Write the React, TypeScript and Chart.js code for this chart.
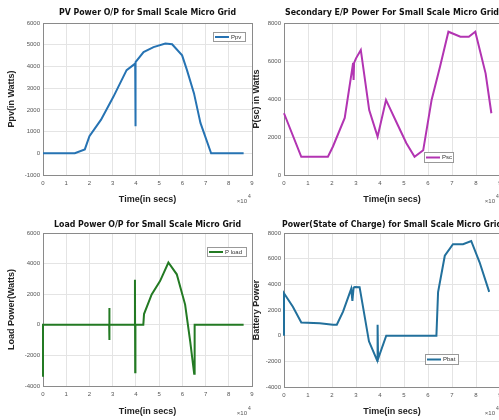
import React, { useEffect, useRef } from "react";
import { Chart, registerables } from "chart.js";

Chart.register(...registerables);

// ---------- data (time in units of 10^4 s) ----------
const xTickValues = [0, 1, 2, 3, 4, 5, 6, 7, 8, 9];

const pvTime = [0, 1.37, 1.8, 2.0, 2.5, 3.03, 3.6, 3.97, 3.98, 3.99, 4.33, 4.76, 5.27, 5.56, 5.99, 6.2, 6.5, 6.78, 7.24, 8.64];
const pvPower = [0, 0, 180, 790, 1550, 2600, 3830, 4130, 1250, 4200, 4660, 4890, 5050, 5020, 4510, 3830, 2770, 1400, 0, 0];
const pvYTicks = [-1000, 0, 1000, 2000, 3000, 4000, 5000, 6000];

const secTime = [0, 0.72, 1.83, 2.04, 2.53, 2.88, 2.9, 2.92, 3.0, 3.2, 3.55, 3.9, 4.25, 4.74, 5.1, 5.44, 5.8, 6.15, 6.5, 6.85, 7.35, 7.7, 7.97, 8.4, 8.64];
const secPower = [3250, 960, 960, 1500, 3000, 5900, 5000, 5900, 6140, 6580, 3420, 2020, 3950, 2630, 1670, 960, 1300, 3950, 5700, 7540, 7280, 7280, 7540, 5350, 3250];
const secYTicks = [0, 2000, 4000, 6000, 8000];

const loadTime = [0, 0, 2.85, 2.85, 2.86, 2.87, 3.96, 3.96, 3.97, 3.98, 4.32, 4.35, 4.68, 5.04, 5.4, 5.76, 6.12, 6.34, 6.51, 6.53, 8.64];
const loadPower = [-3400, 0, 0, 1100, -1000, 0, 0, 2950, -3100, 0, 0, 700, 1980, 2860, 4070, 3300, 1320, -1100, -3200, 0, 0];
const loadYTicks = [-4000, -2000, 0, 2000, 4000, 6000];

const battTime = [0, 0, 0.37, 0.72, 1.49, 2.04, 2.2, 2.46, 2.8, 2.85, 2.9, 2.95, 3.15, 3.54, 3.89, 3.9, 3.92, 4.26, 6.35, 6.42, 6.7, 7.04, 7.46, 7.8, 8.15, 8.55];
const battPower = [0, 3300, 2250, 1030, 970, 850, 850, 1870, 3650, 2700, 3750, 3800, 3780, -440, -1970, 850, -1800, 0, 0, 3400, 6230, 7130, 7130, 7380, 5720, 3410];
const battYTicks = [-4000, -2000, 0, 2000, 4000, 6000, 8000];

type PanelCfg = {
  left: number;
  top: number;
  width: number;
  height: number;
  xs: number[];
  ys: number[];
  yTicks: number[];
  color: string;
  title: string;
  titleWidth: number;
  titleY: number;
  yTitle: string;
  yTitleX: number;
  xTitleY: number;
  padTop: number;
  padRight: number;
  yAxisW: number;
  xAxisH: number;
  legendLabel: string;
  legendBox: [number, number, number, number];
};

const panels: PanelCfg[] = [
  {
    left: 0, top: 0, width: 262, height: 210,
    xs: pvTime, ys: pvPower, yTicks: pvYTicks, color: "#2673b3",
    title: "PV Power O/P for Small Scale Micro Grid", titleWidth: 177, titleY: 13,
    yTitle: "Ppv(in Watts)", yTitleX: 12, xTitleY: 200,
    padTop: 23, padRight: 10, yAxisW: 43, xAxisH: 35,
    legendLabel: "Ppv", legendBox: [213, 32, 32, 9],
  },
  {
    left: 250, top: 0, width: 260, height: 210,
    xs: secTime, ys: secPower, yTicks: secYTicks, color: "#b234b2",
    title: "Secondary E/P Power For Small Scale Micro Grid", titleWidth: 214, titleY: 13,
    yTitle: "P(sc) in Watts", yTitleX: 7, xTitleY: 200,
    padTop: 23, padRight: 10, yAxisW: 34, xAxisH: 35,
    legendLabel: "Psc", legendBox: [174, 152, 29, 10],
  },
  {
    left: 0, top: 210, width: 262, height: 210,
    xs: loadTime, ys: loadPower, yTicks: loadYTicks, color: "#237a23",
    title: "Load Power O/P for Small Scale Micro Grid", titleWidth: 187, titleY: 15,
    yTitle: "Load Power(Watts)", yTitleX: 12, xTitleY: 202,
    padTop: 23, padRight: 10, yAxisW: 43, xAxisH: 34,
    legendLabel: "P load", legendBox: [207, 37, 39, 9],
  },
  {
    left: 250, top: 210, width: 260, height: 210,
    xs: battTime, ys: battPower, yTicks: battYTicks, color: "#22709c",
    title: "Power(State of Charge) for Small Scale Micro Grid", titleWidth: 220, titleY: 15,
    yTitle: "Battery Power", yTitleX: 7, xTitleY: 202,
    padTop: 23, padRight: 10, yAxisW: 34, xAxisH: 33,
    legendLabel: "Pbat", legendBox: [175, 144, 33, 10],
  },
];

function Panel({ cfg }: { cfg: PanelCfg }) {
  const ref = useRef<HTMLCanvasElement>(null);
  useEffect(() => {
    const decor = {
      id: "decor",
      beforeDatasetsDraw(chart: any) {
        const ctx = chart.ctx as CanvasRenderingContext2D;
        const a = chart.chartArea;
        ctx.save();
        ctx.strokeStyle = "#8a8a8a";
        ctx.lineWidth = 1;
        ctx.strokeRect(Math.round(a.left) + 0.5, Math.round(a.top) + 0.5, Math.round(a.right - a.left), Math.round(a.bottom - a.top));
        ctx.restore();
      },
      afterDraw(chart: any) {
        const ctx = chart.ctx as CanvasRenderingContext2D;
        const a = chart.chartArea;
        ctx.save();
        // title
        ctx.fillStyle = "#111";
        ctx.font = "bold 9px 'DejaVu Sans Condensed', 'DejaVu Sans', sans-serif";
        ctx.textBaseline = "middle";
        ctx.textAlign = "center";
        const cx = (a.left + a.right) / 2;
        const tw = ctx.measureText(cfg.title).width;
        const sx = cfg.titleWidth / tw;
        ctx.save();
        ctx.translate(cx, cfg.titleY);
        ctx.scale(sx, 1);
        ctx.fillText(cfg.title, 0, 0);
        ctx.restore();
        // x title
        ctx.fillStyle = "#222";
        ctx.font = "bold 9px 'Liberation Sans', Arial, sans-serif";
        ctx.fillText("Time(in secs)", cx, cfg.xTitleY);
        // y title
        ctx.save();
        ctx.translate(cfg.yTitleX, (a.top + a.bottom) / 2);
        ctx.rotate(-Math.PI / 2);
        ctx.fillText(cfg.yTitle, 0, 0);
        ctx.restore();
        // exponent
        ctx.fillStyle = "#555";
        ctx.textAlign = "right";
        ctx.font = "6px 'Liberation Sans', Arial, sans-serif";
        ctx.fillText("×10", a.right - 5, cfg.xTitleY + 1);
        ctx.font = "5px 'Liberation Sans', Arial, sans-serif";
        ctx.textAlign = "left";
        ctx.fillText("4", a.right - 4, cfg.xTitleY - 3);
        // legend
        const [lx, ly, lw, lh] = cfg.legendBox;
        ctx.fillStyle = "#fff";
        ctx.fillRect(lx, ly, lw, lh);
        ctx.strokeStyle = "#999";
        ctx.lineWidth = 1;
        ctx.strokeRect(lx + 0.5, ly + 0.5, lw, lh);
        ctx.strokeStyle = cfg.color;
        ctx.lineWidth = 2;
        ctx.beginPath();
        ctx.moveTo(lx + 2, ly + lh / 2 + 0.5);
        ctx.lineTo(lx + 16, ly + lh / 2 + 0.5);
        ctx.stroke();
        ctx.fillStyle = "#333";
        ctx.font = "6px 'Liberation Sans', Arial, sans-serif";
        ctx.textAlign = "left";
        ctx.textBaseline = "middle";
        ctx.fillText(cfg.legendLabel, lx + 18, ly + lh / 2 + 0.5);
        ctx.restore();
      },
    };
    const chart = new Chart(ref.current as HTMLCanvasElement, {
      type: "line",
      data: {
        datasets: [
          {
            data: cfg.xs.map((x, i) => ({ x, y: cfg.ys[i] })),
            borderColor: cfg.color,
            borderWidth: 2,
            pointRadius: 0,
            tension: 0,
            fill: false,
            clip: 2,
          },
        ],
      },
      options: {
        animation: false,
        responsive: false,
        maintainAspectRatio: false,
        devicePixelRatio: 1,
        layout: { padding: { top: cfg.padTop, right: cfg.padRight, left: 0, bottom: 0 } },
        plugins: {
          legend: { display: false },
          title: { display: false },
          tooltip: { enabled: false },
        },
        scales: {
          x: {
            type: "linear",
            min: 0,
            max: 9,
            afterBuildTicks: (s: any) => {
              s.ticks = xTickValues.map((v) => ({ value: v }));
            },
            afterFit: (s: any) => {
              s.height = cfg.xAxisH;
            },
            grid: { color: "#e4e4e4", drawTicks: false },
            border: { display: false },
            ticks: {
              padding: 5,
              autoSkip: false,
              maxRotation: 0,
              color: "#555",
              font: { size: 6, family: "'Liberation Sans', Arial, sans-serif" },
            },
          },
          y: {
            type: "linear",
            min: cfg.yTicks[0],
            max: cfg.yTicks[cfg.yTicks.length - 1],
            afterBuildTicks: (s: any) => {
              s.ticks = cfg.yTicks.map((v) => ({ value: v }));
            },
            afterFit: (s: any) => {
              s.width = cfg.yAxisW;
            },
            grid: { color: "#e4e4e4", drawTicks: false },
            border: { display: false },
            ticks: {
              padding: 3,
              autoSkip: false,
              color: "#555",
              font: { size: 6, family: "'Liberation Sans', Arial, sans-serif" },
              callback: (v: any) => String(v),
            },
          },
        },
      },
      plugins: [decor],
    });
    return () => chart.destroy();
  }, []);
  return (
    <canvas
      ref={ref}
      width={cfg.width}
      height={cfg.height}
      style={{ position: "absolute", left: cfg.left, top: cfg.top, width: cfg.width, height: cfg.height }}
    />
  );
}

export default function App() {
  return (
    <div
      style={{
        position: "fixed",
        left: 0,
        top: 0,
        width: 499,
        height: 420,
        overflow: "hidden",
        background: "#fff",
      }}
    >
      {panels.map((p, i) => (
        <Panel key={i} cfg={p} />
      ))}
    </div>
  );
}
